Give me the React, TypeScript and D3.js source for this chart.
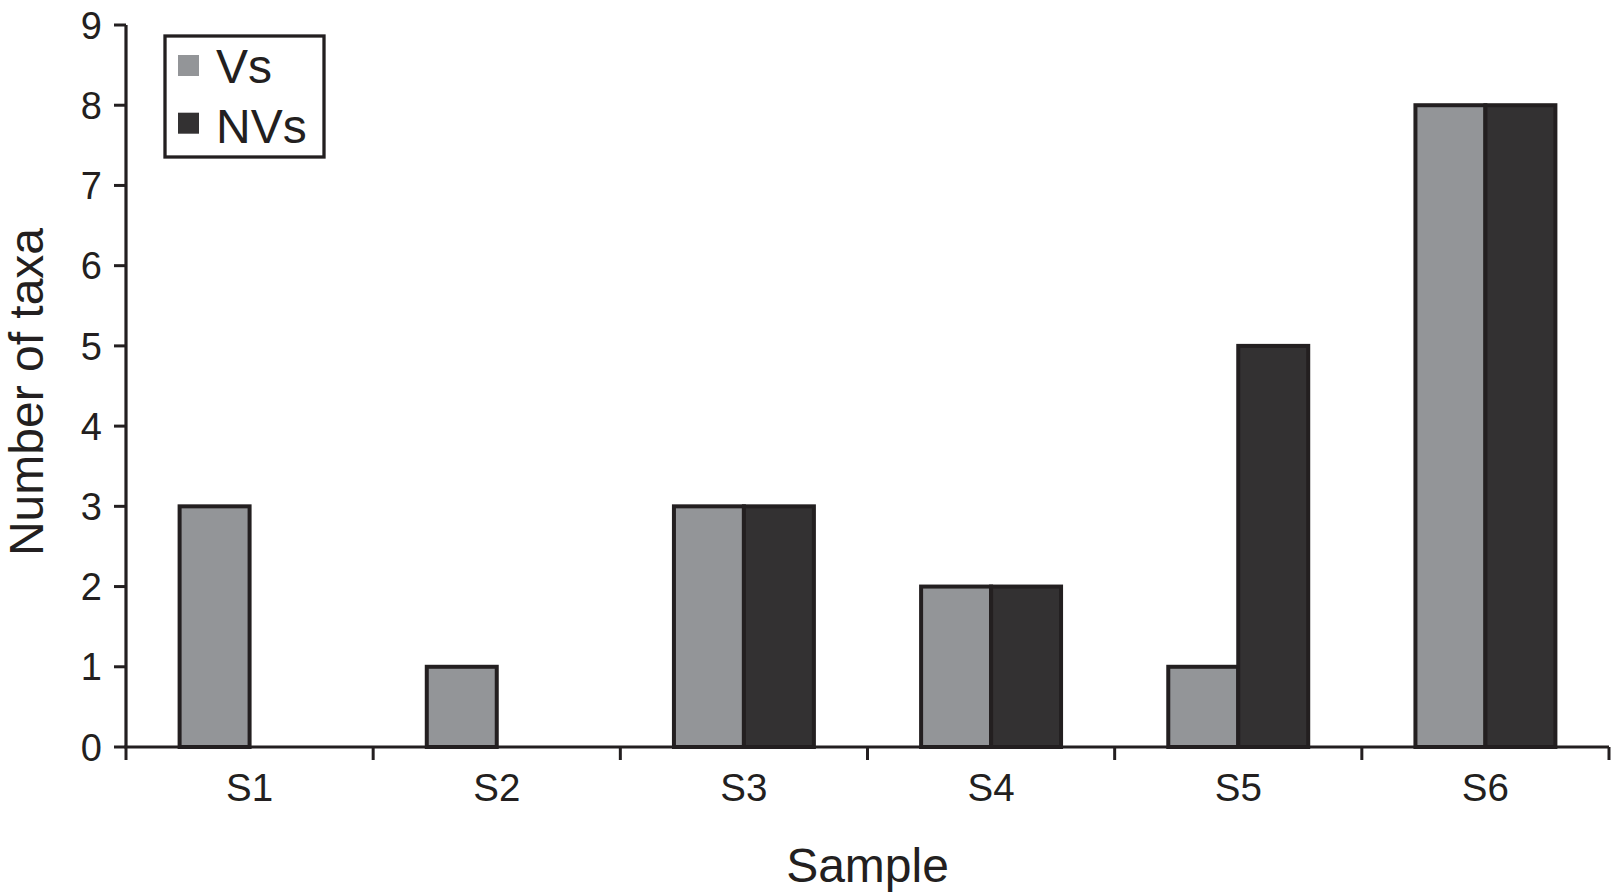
import React from "react";
import * as d3 from "d3";

const categories = ["S1", "S2", "S3", "S4", "S5", "S6"];
const seriesNames = ["Vs", "NVs"];
const vsValues = [3, 1, 3, 2, 1, 8];
const nvsValues = [0, 0, 3, 2, 5, 8];
const yTicks = [0, 1, 2, 3, 4, 5, 6, 7, 8, 9];
const seriesColors = ["#939598", "#333132"];

const W = 1611;
const H = 893;
const left = 126;
const right = 1609;
const top = 25;
const bottom = 747;
const FONT = "'Liberation Sans', Arial, Helvetica, sans-serif";
const INK = "#231f20";

export default function App() {
  const x = d3.scaleBand<string>().domain(categories).range([left, right]).padding(0);
  const inner = d3
    .scaleBand<string>()
    .domain(seriesNames)
    .range([0, x.bandwidth()])
    .paddingInner(0)
    .paddingOuter(0.766);
  const y = d3.scaleLinear().domain([0, 9]).range([bottom, top]);
  const series = [vsValues, nvsValues];

  const boundaries = d3.range(categories.length + 1).map((i) => left + i * x.step());

  return (
    <svg
      width={W}
      height={H}
      style={{ position: "absolute", left: 0, top: 0, background: "#fff" }}
      fontFamily={FONT}
    >
      {/* bars */}
      {categories.map((c, ci) =>
        seriesNames.map((s, si) => {
          const v = series[si][ci];
          if (!v) return null;
          const bx = (x(c) as number) + (inner(s) as number);
          return (
            <rect
              key={c + s}
              x={bx}
              y={y(v)}
              width={inner.bandwidth()}
              height={y(0) - y(v)}
              fill={seriesColors[si]}
              stroke={INK}
              strokeWidth={4}
            />
          );
        })
      )}

      {/* y axis */}
      <line x1={left} x2={left} y1={top} y2={bottom} stroke={INK} strokeWidth={3.2} />
      {yTicks.map((t) => (
        <g key={t}>
          <line x1={114} x2={left} y1={y(t)} y2={y(t)} stroke={INK} strokeWidth={3} />
          <text
            x={102}
            y={y(t)}
            dy="0.36em"
            textAnchor="end"
            fontSize={38}
            fill={INK}
          >
            {t}
          </text>
        </g>
      ))}

      {/* x axis */}
      <line x1={left - 1.6} x2={right} y1={bottom} y2={bottom} stroke={INK} strokeWidth={3.2} />
      {boundaries.map((b, i) => (
        <line key={i} x1={b} x2={b} y1={bottom} y2={760} stroke={INK} strokeWidth={3} />
      ))}
      {categories.map((c) => (
        <text
          key={c}
          x={(x(c) as number) + x.bandwidth() / 2}
          y={801}
          textAnchor="middle"
          fontSize={38.5}
          fill={INK}
        >
          {c}
        </text>
      ))}

      {/* axis titles */}
      <text x={(left + right) / 2} y={882} textAnchor="middle" fontSize={48} fill={INK}>
        Sample
      </text>
      <text
        transform={`translate(43, ${(top + bottom) / 2 + 6}) rotate(-90)`}
        textAnchor="middle"
        fontSize={48}
        fill={INK}
      >
        Number of taxa
      </text>

      {/* legend */}
      <rect x={165} y={36} width={159} height={121} fill="#fff" stroke={INK} strokeWidth={3.3} />
      {seriesNames.map((s, i) => (
        <g key={s}>
          <rect x={178} y={55 + i * 57.7} width={21} height={21} fill={seriesColors[i]} />
          <text x={216} y={83 + i * 59.5} fontSize={48} fill={INK}>
            {s}
          </text>
        </g>
      ))}
    </svg>
  );
}
